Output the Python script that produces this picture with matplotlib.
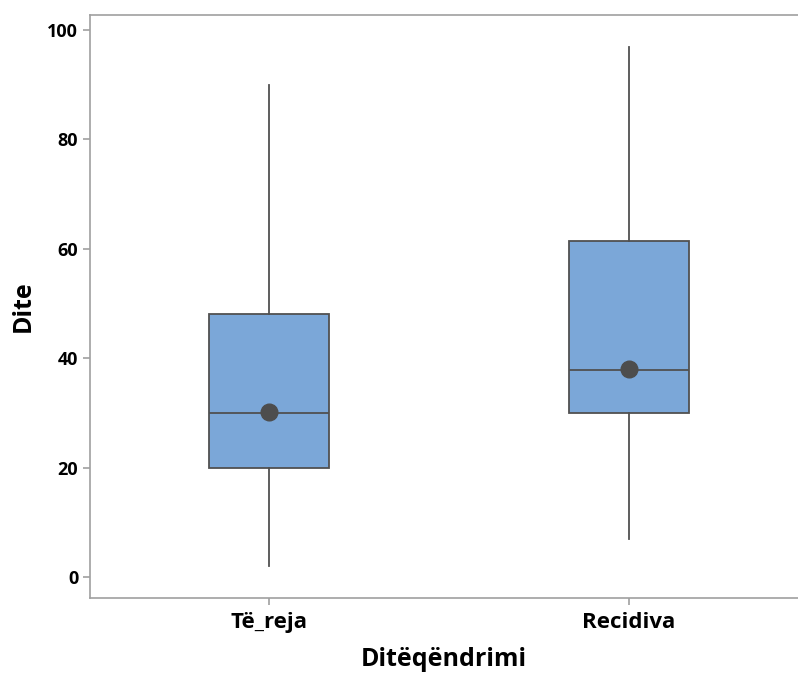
import matplotlib
matplotlib.use('Agg')
import matplotlib.pyplot as plt

# Të dhënat e lexuara nga grafiku
groups = ['Të_reja', 'Recidiva']
q1 = [20, 30]
median = [30, 37.8]
q3 = [48, 61.3]
whisker_low = [2, 7]
whisker_high = [89.8, 96.8]
mean = [30.2, 38]

plt.rcParams['font.family'] = ['Open Sans', 'DejaVu Sans']

box_color = '#7BA7D8'
line_color = '#505050'
spine_color = '#A0A0A0'

stats = []
for i in range(len(groups)):
    stats.append({
        'label': groups[i],
        'q1': q1[i], 'med': median[i], 'q3': q3[i],
        'whislo': whisker_low[i], 'whishi': whisker_high[i],
        'mean': mean[i], 'fliers': [],
    })

fig = plt.figure(figsize=(7.98, 6.75), dpi=100)
ax = fig.add_axes([0.1128, 0.114, 0.887, 0.864])

ax.bxp(stats, positions=[1, 2], widths=0.333, patch_artist=True,
       showmeans=True, showcaps=False,
       boxprops=dict(facecolor=box_color, edgecolor=line_color, linewidth=1.3),
       medianprops=dict(color=line_color, linewidth=1.3),
       whiskerprops=dict(color=line_color, linewidth=1.3),
       meanprops=dict(marker='o', markerfacecolor='#4D4D4D', markeredgecolor='#4D4D4D',
                      markersize=12))

ax.set_xlim(0.503, 2.469)
ax.set_ylim(-3.84, 102.7)
ax.set_yticks([0, 20, 40, 60, 80, 100])
ax.set_xticks([1, 2])
ax.set_xticklabels(groups)

for s in ax.spines.values():
    s.set_color(spine_color)
    s.set_linewidth(1.2)
ax.spines['right'].set_visible(False)

ax.tick_params(axis='both', colors=spine_color, labelcolor='black', length=5, width=1.2)
ax.tick_params(axis='y', labelsize=13)
ax.tick_params(axis='x', labelsize=16, pad=5)
for lbl in ax.get_xticklabels() + ax.get_yticklabels():
    lbl.set_fontweight('bold')

ax.set_xlabel('Ditëqëndrimi', fontsize=18, fontweight='bold', labelpad=10)
ax.set_ylabel('Dite', fontsize=18, fontweight='bold', labelpad=8)

fig.savefig('out.png', dpi=100)
